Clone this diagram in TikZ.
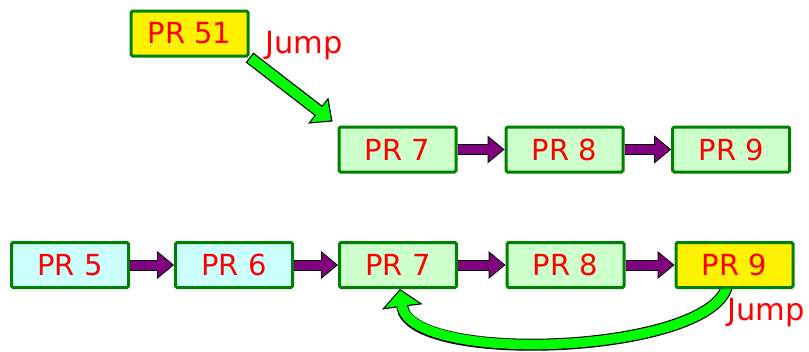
\documentclass[tikz,border=0pt]{standalone}
\usepackage{fontspec}
\setmainfont{DejaVu Sans}
\usetikzlibrary{positioning, calc, arrows.meta, backgrounds}
\tikzstyle{canvas} = [x = 1pt, y = -1pt]
\definecolor{borderGreen}{RGB}{0,128,0}
\definecolor{jumpGreen}{RGB}{0,255,0}
\definecolor{linkPurple}{RGB}{128,0,128}
\definecolor{paleGreen}{RGB}{204,255,204}
\definecolor{paleCyan}{RGB}{204,255,255}
\tikzstyle{prBox} = [draw=borderGreen, line width=3pt, rounded corners=1.5pt, minimum width=117pt, minimum height=45pt, inner sep=0pt, text=red, font=\fontsize{29}{29}\selectfont]
\tikzstyle{oldBox} = [prBox, fill=paleCyan]
\tikzstyle{newBox} = [prBox, fill=paleGreen]
\tikzstyle{jumpBox} = [prBox, fill=yellow]
\tikzstyle{jumpText} = [text=red, font=\fontsize{30.5}{30.5}\selectfont, anchor=base west, inner sep=0pt]
\tikzstyle{linkOutline} = [line width=11pt, -{Triangle[length=17pt, width=28pt, line width=0pt]}]
\tikzstyle{linkFill} = [line width=9pt, linkPurple, shorten >=1.6pt, -{Triangle[length=14.4pt, width=23.7pt, line width=0pt]}]
\tikzstyle{jumpOutline} = [line width=12.5pt, -{Triangle[length=18pt, width=33pt, line width=0pt]}]
\tikzstyle{jumpFill} = [line width=10pt, jumpGreen, shorten <=1.2pt, shorten >=1.8pt, -{Triangle[length=15pt, width=27.5pt, line width=0pt]}]
\tikzstyle{loopOutline} = [line width=12pt, -{Triangle[length=18pt, width=41pt, line width=0pt]}]
\tikzstyle{loopFill} = [line width=9.6pt, jumpGreen, shorten >=1.6pt, -{Triangle[length=15.2pt, width=34.6pt, line width=0pt]}]
\newcommand{\linkArrow}[2]{
  \draw [linkOutline] (#1.east) -- (#2.west);
  \draw [linkFill] (#1.east) -- (#2.west);
}

\begin{document}
\begin{tikzpicture}[canvas]
  \useasboundingbox (0,0) rectangle (809,351);

  \node [jumpBox] (prFiftyOne) at (189.5,33.5) {PR 51};
  \node [jumpText] (jumpTop) at (265,53) {Jump};

  \node [newBox] (topSeven) at (397.5,149.5) {PR 7};
  \node [newBox] (topEight) at (564.5,149.5) {PR 8};
  \node [newBox] (topNine) at (731.2,149.5) {PR 9};
  \linkArrow{topSeven}{topEight}
  \linkArrow{topEight}{topNine}

  \coordinate (jumpTip) at ($(topSeven.north west)+(-5,-4)$);
  \draw [jumpOutline] (prFiftyOne.south east) -- (jumpTip);
  \draw [jumpFill] (prFiftyOne.south east) -- (jumpTip);

  \node [oldBox] (bottomFive) at (70,265) {PR 5};
  \node [oldBox] (bottomSix) at (234,265) {PR 6};
  \node [newBox] (bottomSeven) at (398,265) {PR 7};
  \node [newBox] (bottomEight) at (565.5,265) {PR 8};
  \node [jumpBox] (bottomNine) at (734.5,265) {PR 9};
  \linkArrow{bottomFive}{bottomSix}
  \linkArrow{bottomSix}{bottomSeven}
  \linkArrow{bottomSeven}{bottomEight}
  \linkArrow{bottomEight}{bottomNine}
  \node [jumpText] (jumpBottom) at (727,320) {Jump};

  \coordinate (loopStart) at ($(bottomNine.south)+(-7,-5)$);
  \coordinate (loopTip) at ($(bottomSeven.south)+(2,0)$);
  \begin{pgfonlayer}{background}
    \draw [loopOutline] (loopStart) .. controls +(-12,70) and +(10,77) .. (loopTip);
    \draw [loopFill] (loopStart) .. controls +(-12,70) and +(10,77) .. (loopTip);
  \end{pgfonlayer}
\end{tikzpicture}
\end{document}
